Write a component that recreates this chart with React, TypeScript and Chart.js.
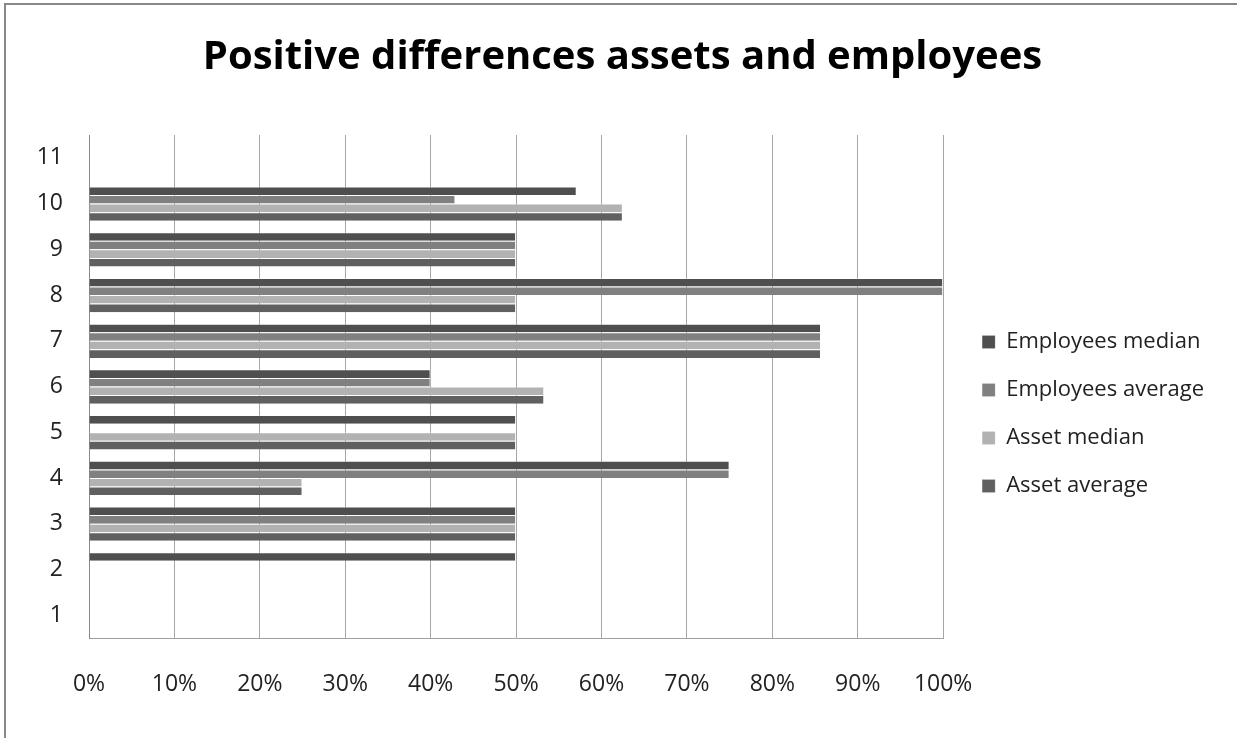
import React, { useEffect, useRef } from "react";
import { Chart, registerables } from "chart.js";

Chart.register(...registerables);

const categories = ["1", "2", "3", "4", "5", "6", "7", "8", "9", "10", "11"];
const employeesMedian = [0, 50, 50, 75, 50, 40, 85.7, 100, 50, 57.1, 0];
const employeesAverage = [0, 0, 50, 75, 0, 40, 85.7, 100, 50, 42.9, 0];
const assetMedian = [0, 0, 50, 25, 50, 53.3, 85.7, 50, 50, 62.5, 0];
const assetAverage = [0, 0, 50, 25, 50, 53.3, 85.7, 50, 50, 62.5, 0];

const FONT = "'Open Sans', sans-serif";

const boxShift = {
  id: "boxShift",
  afterLayout(chart: any) {
    if (chart.legend) {
      chart.legend.left += 13;
      chart.legend.right += 13;
    }
    if (chart.titleBlock) {
      chart.titleBlock.left += 22;
      chart.titleBlock.right += 22;
    }
  },
};

export default function App() {
  const ref = useRef<HTMLCanvasElement | null>(null);

  useEffect(() => {
    if (!ref.current) return;
    const chart = new Chart(ref.current, {
      type: "bar",
      data: {
        labels: categories,
        datasets: [
          { label: "Employees median", data: employeesMedian, backgroundColor: "#4f4f4f" },
          { label: "Employees average", data: employeesAverage, backgroundColor: "#808080" },
          { label: "Asset median", data: assetMedian, backgroundColor: "#b2b2b2" },
          { label: "Asset average", data: assetAverage, backgroundColor: "#606060" },
        ].map((d) => ({
          ...d,
          borderColor: "rgba(255,255,255,0.35)",
          borderWidth: { top: 1, right: 1, bottom: 0, left: 0 },
          borderSkipped: false,
          categoryPercentage: 0.75,
          barPercentage: 1,
        })),
      },
      options: {
        indexAxis: "y",
        responsive: false,
        animation: false,
        layout: { padding: { left: 0, right: 36, top: 0, bottom: 0 } },
        plugins: {
          tooltip: { enabled: false },
          title: {
            display: true,
            text: "Positive differences assets and employees",
            color: "#000",
            font: { family: FONT, size: 40, weight: "bold", lineHeight: 1.2 },
            padding: { top: 34, bottom: 53 },
          },
          legend: {
            position: "right",
            title: { display: true, text: " ", font: { size: 1, lineHeight: 1 }, padding: { top: 89, bottom: 0 } },
            labels: {
              color: "#222",
              font: { family: FONT, size: 22 },
              boxWidth: 13,
              boxHeight: 13,
              padding: 26,
            },
          },
        },
        scales: {
          x: {
            min: 0,
            max: 100,
            ticks: {
              stepSize: 10,
              callback: (v: any) => v + "%",
              color: "#222",
              font: { family: FONT, size: 23 },
              padding: 33,
            },
            grid: { color: "#a6a6a6", drawTicks: false, lineWidth: 1 },
            border: { display: true, color: "#a0a0a0" },
            afterFit: (s: any) => {
              s.height = 100;
            },
          },
          y: {
            reverse: true,
            ticks: {
              color: "#222",
              font: { family: FONT, size: 23 },
              padding: 26,
            },
            grid: { display: false, drawTicks: false },
            border: { display: true, color: "#8a8a8a" },
            afterFit: (s: any) => {
              s.width = 89;
            },
          },
        },
      },
      plugins: [boxShift],
    });
    return () => chart.destroy();
  }, []);

  return (
    <div
      style={{
        position: "fixed",
        left: 0,
        top: 0,
        width: 1237,
        height: 738,
        background: "#fff",
        overflow: "hidden",
      }}
    >
      <canvas ref={ref} width={1237} height={738} style={{ position: "absolute", left: 0, top: 0 }} />
      <div
        style={{
          position: "absolute",
          left: 4,
          top: 3,
          width: 1231,
          height: 800,
          borderLeft: "2px solid #888",
          borderTop: "2px solid #888",
          borderRight: "1px solid #b0b0b0",
          pointerEvents: "none",
        }}
      />
    </div>
  );
}
